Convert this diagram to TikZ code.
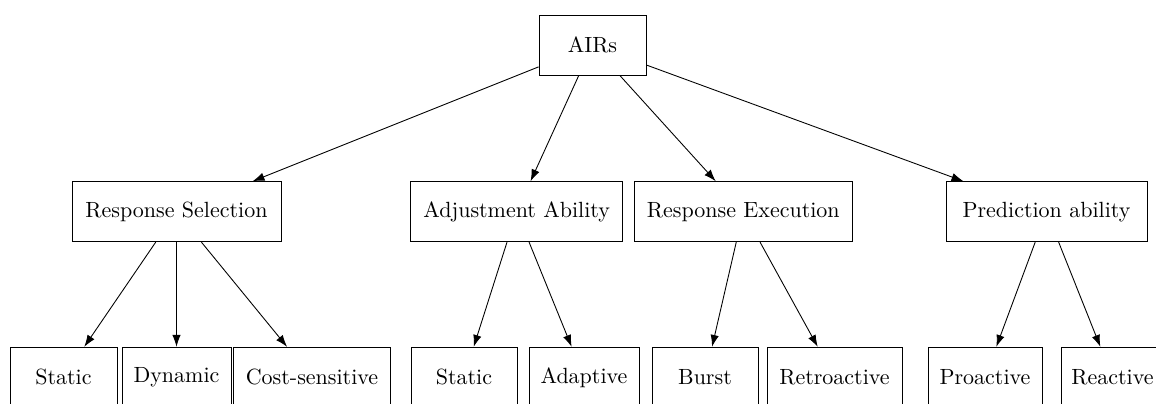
\documentclass[tikz,border=0pt]{standalone}
\usetikzlibrary{arrows.meta}
\begin{document}
\begin{tikzpicture}[x=0.4545pt,y=-0.4545pt,
  box/.style={draw, rectangle, minimum height=27.3pt, inner sep=3.33pt},
  link/.style={-{Latex[length=5.4pt,width=3.8pt]}}]
\useasboundingbox (0,0) rectangle (1156,403);

% root
\node[box, minimum width=48.6pt] (airs) at (592.5,45.3) {AIRs};

% second level
\node[box, minimum width=95pt]   (sel)  at (176.5,211.7) {Response Selection};
\node[box, minimum width=96.4pt] (adj)  at (516.7,211.7) {Adjustment Ability};
\node[box, minimum width=99.4pt] (exe)  at (743.3,211.7) {Response Execution};
\node[box, minimum width=91.4pt] (pred) at (1046.5,211.7) {Prediction ability};

% leaves
\node[box, minimum width=48.6pt] (sta1)  at (63.5,377.3)  {Static};
\node[box, minimum width=49.5pt] (dyn)   at (176.5,377.3) {Dynamic};
\node[box, minimum width=71.5pt] (cost)  at (312,377.3)   {Cost-sensitive};
\node[box, minimum width=48.2pt] (sta2)  at (464,377.3)   {Static};
\node[box, minimum width=50pt]   (adap)  at (584,377.3)   {Adaptive};
\node[box, minimum width=48.2pt] (burst) at (705,377.3)   {Burst};
\node[box, minimum width=61.4pt] (retro) at (834.5,377.3) {Retroactive};
\node[box, minimum width=51.8pt] (pro)   at (985,377.3)   {Proactive};
\node[box, minimum width=46.8pt] (rea)   at (1112.5,377.3) {Reactive};

% connectors
\draw[link] (airs) -- (sel);
\draw[link] (airs) -- (adj);
\draw[link] (airs) -- (exe);
\draw[link] (airs) -- (pred);

\draw[link] (sel) -- (sta1);
\draw[link] (sel) -- (dyn);
\draw[link] (sel) -- (cost);
\draw[link] (adj) -- (sta2);
\draw[link] (adj) -- (adap);
\draw[link] (exe) -- (burst);
\draw[link] (exe) -- (retro);
\draw[link] (pred) -- (pro);
\draw[link] (pred) -- (rea);
\end{tikzpicture}
\end{document}
